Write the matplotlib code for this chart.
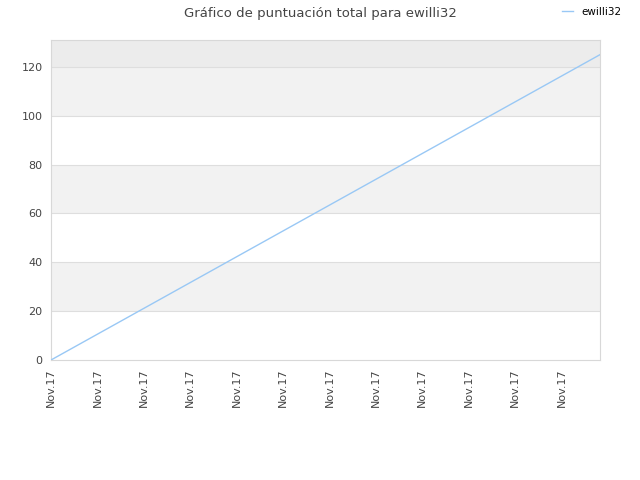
import numpy as np
import matplotlib.pyplot as plt

# data
dias = [0, 11.83]
puntos = [0, 125]
tick_pos = list(range(12))
tick_labels = ['Nov.17'] * 12
y_ticks = [0, 20, 40, 60, 80, 100, 120]

fig = plt.figure(figsize=(6.4, 4.8), dpi=100)
ax = fig.add_axes([51/640, 1 - 360/480, 549/640, 320/480])

ymax = 131
# alternating bands
for lo in [20, 60, 100]:
    ax.axhspan(lo, lo + 20, color='#f2f2f2', zorder=0, lw=0)
ax.axhspan(120, ymax, color='#ececec', zorder=0, lw=0)
for yt in y_ticks[1:]:
    ax.axhline(yt, color='#dedede', lw=0.8, zorder=1)

ax.plot(dias, puntos, color='#99c8f5', lw=1, label='ewilli32', zorder=3)

ax.set_xlim(0, 11.83)
ax.set_ylim(0, ymax)
ax.set_xticks(tick_pos)
ax.set_xticklabels(tick_labels, rotation=90, fontsize=8, color='#444444')
ax.set_yticks(y_ticks)
ax.set_yticklabels([str(v) for v in y_ticks], fontsize=8, color='#444444')
ax.tick_params(length=0, pad=6)
for s in ax.spines.values():
    s.set_color('#d8d8d8')

fig.text(0.5, 1 - 13/480, 'Gráfico de puntuación total para ewilli32',
         ha='center', va='center', fontsize=9.5, color='#444444')
fig.legend(loc='upper right', bbox_to_anchor=(0.985, 1.005), frameon=False,
           fontsize=7.5, handlelength=1.0, handletextpad=0.8)

fig.savefig('out.png', dpi=100)
